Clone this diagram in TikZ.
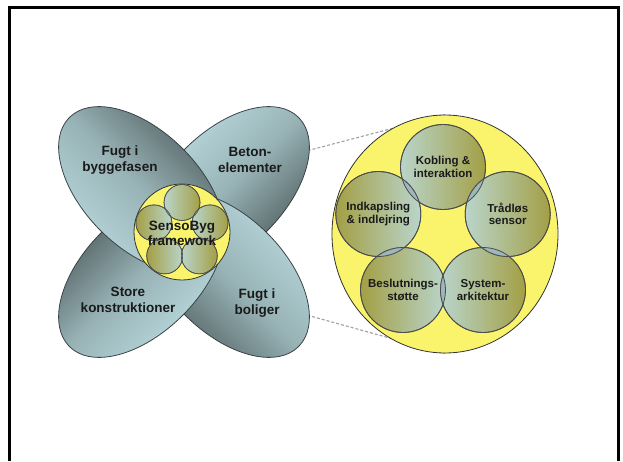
\documentclass[tikz,border=0pt]{standalone}
\usepackage{fontspec}
\setmainfont{Liberation Sans}
\usetikzlibrary{backgrounds,shapes.geometric}
\definecolor{petalL}{HTML}{BEDFE4}
\definecolor{petalM}{HTML}{98B3B6}
\definecolor{petalD}{HTML}{475456}
\definecolor{petalLine}{HTML}{3A4345}
\definecolor{yel}{HTML}{F9F46C}
\definecolor{cirL}{HTML}{B9D5CB}
\definecolor{cirD}{HTML}{A39F45}
\definecolor{lensC}{HTML}{9DB8BD}
\definecolor{dashC}{HTML}{A0A0A0}
\definecolor{txt}{HTML}{1A1A1A}
\begin{document}
\begin{tikzpicture}[x=1pt,y=1pt,
 petal/.style={draw=petalLine, line width=0.8pt, top color=petalL, bottom color=petalD, middle color=petalM},
 petaltext/.style={font=\fontsize{13.5}{15.5}\selectfont\bfseries, align=center, text=txt},
 yellowdisc/.style={draw=black!80, line width=0.8pt, fill=yel, inner sep=0pt},
 bigcirc/.style={circle, draw=black!70, line width=0.8pt, minimum size=85pt, inner sep=0pt},
 bigtext/.style={align=center, font=\fontsize{11.5}{12.5}\selectfont\bfseries, text=txt},
 smallcirc/.style={circle, draw=black!70, line width=0.6pt, minimum size=36pt, inner sep=0pt},
 lightleft/.style={left color=cirL, right color=cirD},
 lightright/.style={left color=cirD, right color=cirL},
 zoomline/.style={draw=dashC, line width=1.1pt, dash pattern=on 3pt off 2pt},
 frameline/.style={draw=black, line width=2.8pt, line join=miter},
]
\useasboundingbox (0,0) rectangle (623,461);
% frame
\draw[frameline] (9.5,0) -- (9.5,453.5) -- (618.3,453.5) -- (618.3,0);

% petals (order: B, D, C, A); light side at tip angle + 90 (canvas shading)
\shade[petal, shading angle=45, rotate around={45:(226.4,271.4)}] (226.4,271.4) ellipse [x radius=102, y radius=58];
\shade[petal, shading angle=315, rotate around={315:(226.4,186.6)}] (226.4,186.6) ellipse [x radius=102, y radius=58];
\shade[petal, shading angle=225, rotate around={225:(141.6,186.6)}] (141.6,186.6) ellipse [x radius=102, y radius=58];
\shade[petal, shading angle=135, rotate around={135:(141.6,271.4)}] (141.6,271.4) ellipse [x radius=102, y radius=58];

\node[petaltext] (pA) at (120,301) {Fugt i\\byggefasen};
\node[petaltext] (pB) at (250,301) {Beton-\\elementer};
\node[petaltext] (pC) at (128,161) {Store\\konstruktioner};
\node[petaltext] (pD) at (257,158) {Fugt i\\boliger};

% yellow discs
\node[yellowdisc, circle, minimum size=96pt] (small) at (182,229) {};
\node[yellowdisc, ellipse, minimum width=226pt, minimum height=238pt] (big) at (445,227) {};

% zoom lines behind
\begin{scope}[on background layer]
\draw[zoomline] (small.north) -- (big.north);
\draw[zoomline] (small.south) -- (big.south);
\end{scope}

% small circles
\node[smallcirc, lightleft] (s1) at (182,258.5) {};
\node[smallcirc, lightright] (s2) at (153.9,238.1) {};
\node[smallcirc, lightright] (s3) at (164.7,205.1) {};
\node[smallcirc, lightleft] (s4) at (199.3,205.1) {};
\node[smallcirc, lightleft] (s5) at (210.1,238.1) {};
\foreach \a/\b in {s1/s2, s2/s3, s3/s4, s4/s5, s5/s1} {
  \begin{scope}
    \clip (\a.center) circle (18);
    \fill[lensC] (\b.center) circle (18);
  \end{scope}
}
\foreach \n in {s1,s2,s3,s4,s5} \draw[black!70, line width=0.6pt] (\n.center) circle (18);
\node[petaltext, font=\fontsize{13.5}{15}\selectfont\bfseries] (sbt) at (182,227.5) {SensoByg\\framework};

% big circles
\node[bigcirc, lightleft] (kob) at (443,294) {};
\node[bigcirc, lightright] (ind) at (378.3,247) {};
\node[bigcirc, lightright] (bes) at (403,171) {};
\node[bigcirc, lightleft] (sys) at (483,171) {};
\node[bigcirc, lightleft] (tra) at (507.7,247) {};
\foreach \a/\b in {kob/ind, ind/bes, bes/sys, sys/tra, tra/kob} {
  \begin{scope}
    \clip (\a.center) circle (42.5);
    \fill[lensC] (\b.center) circle (42.5);
  \end{scope}
}
\foreach \n in {kob,ind,bes,sys,tra} \draw[black!70, line width=0.8pt] (\n.center) circle (42.5);
\node[bigtext] (kobT) at (kob.center) {Kobling \&\\interaktion};
\node[bigtext] (indT) at (ind.center) {Indkapsling\\\& indlejring};
\node[bigtext] (besT) at (bes.center) {Beslutnings-\\støtte};
\node[bigtext] (sysT) at (sys.center) {System-\\arkitektur};
\node[bigtext] (traT) at (tra.center) {Trådløs\\sensor};
\end{tikzpicture}
\end{document}
